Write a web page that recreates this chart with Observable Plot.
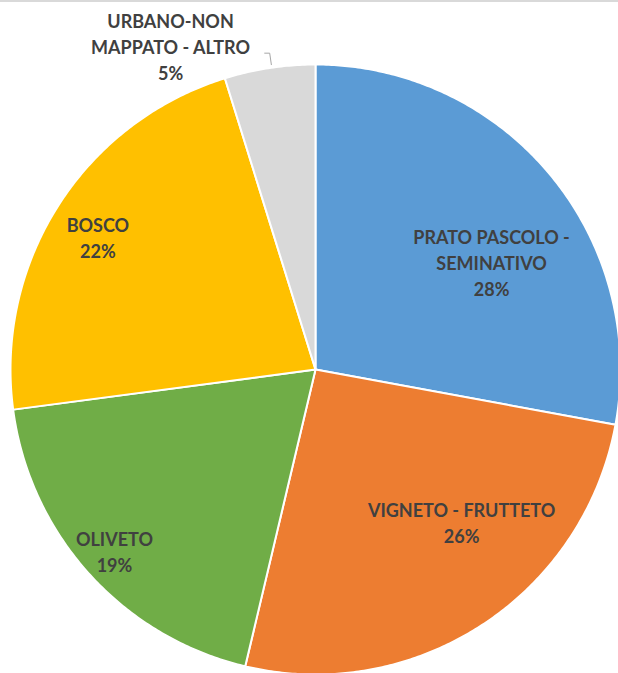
<!DOCTYPE html>
<html><head><meta charset="utf-8">
<script src="https://cdn.jsdelivr.net/npm/d3@7"></script>
<script src="https://cdn.jsdelivr.net/npm/@observablehq/plot@0.6"></script>
<style>
body{margin:0;background:#fff;}
#frame{position:relative;width:618px;height:673px;overflow:hidden;}
#frame::after{content:"";position:absolute;left:0;top:0;width:618px;height:2px;background:#d9d9d9;}
</style>
</head><body><div id="frame"></div>
<script>
// ---- data ----
const categories = ["PRATO PASCOLO - SEMINATIVO", "VIGNETO - FRUTTETO", "OLIVETO", "BOSCO", "URBANO-NON MAPPATO - ALTRO"];
const values = [27.9, 25.8, 19.2, 22.3, 4.8];
const nameLines = [["PRATO PASCOLO -", "SEMINATIVO"], ["VIGNETO - FRUTTETO"], ["OLIVETO"], ["BOSCO"], ["URBANO-NON", "MAPPATO - ALTRO"]];

// ---- layout / style ----
const colors = ["#5B9BD5", "#ED7D31", "#70AD47", "#FFC000", "#D9D9D9"];
const W = 618, H = 673, CX = 315, CY = 369, R = 305;
// label placement: [angle (deg, clockwise from top), radius as fraction of R]
const labelLayout = [[58.5, 0.677], [136.2, 0.692], [228, 0.887], [301.4, 0.836], [335.9, 1.164]];

const total = d3.sum(values);
const rad = d => d * Math.PI / 180;
const pt = (deg, r) => ({x: r * Math.sin(rad(deg)), y: r * Math.cos(rad(deg))});

let acc = 0;
const slices = values.map((v, i) => {
  const a0 = acc / total * 360; acc += v; const a1 = acc / total * 360;
  return {cat: categories[i], a0, a1, v};
});

const slicePts = [];
for (const s of slices) {
  slicePts.push({cat: s.cat, ...pt(0, 0)});
  const n = Math.max(2, Math.ceil((s.a1 - s.a0) / 0.5));
  for (let k = 0; k <= n; k++) slicePts.push({cat: s.cat, ...pt(s.a0 + (s.a1 - s.a0) * k / n, 1)});
  slicePts.push({cat: s.cat, ...pt(0, 0)});
}

const labels = slices.map((s, i) => {
  const [ang, rf] = labelLayout[i];
  const pct = Math.round(s.v / total * 100) + "%";
  return {...pt(ang, rf), text: [...nameLines[i], pct].join("\n")};
});

// leader line for the small outside label
const last = slices[slices.length - 1];
const mid = (last.a0 + last.a1) / 2 + 0.4;
const p1 = pt(mid, 1.01), p2 = pt(mid, 1.048);
const leader = [ {x: p2.x - 5 / R, y: p2.y}, p2, p1 ];

const chart = Plot.plot({
  width: W, height: H,
  margin: 0,
  x: {domain: [-CX / R, (W - CX) / R], range: [0, W], axis: null},
  y: {domain: [-(H - CY) / R, CY / R], range: [H, 0], axis: null},
  color: {domain: categories, range: colors},
  style: {background: "transparent"},
  marks: [
    Plot.line(slicePts, {x: "x", y: "y", z: "cat", fill: "cat", stroke: "white", strokeWidth: 2, strokeLinejoin: "round"}),
    Plot.line(leader, {x: "x", y: "y", stroke: "#a6a6a6", strokeWidth: 1}),
    Plot.text(labels, {x: "x", y: "y", text: "text", fontSize: 18, fontWeight: "bold", fill: "#404040", lineHeight: 1.44, fontFamily: "Lato, sans-serif", lineAnchor: "middle"})
  ]
});
document.getElementById("frame").appendChild(chart);
</script>
</body></html>
